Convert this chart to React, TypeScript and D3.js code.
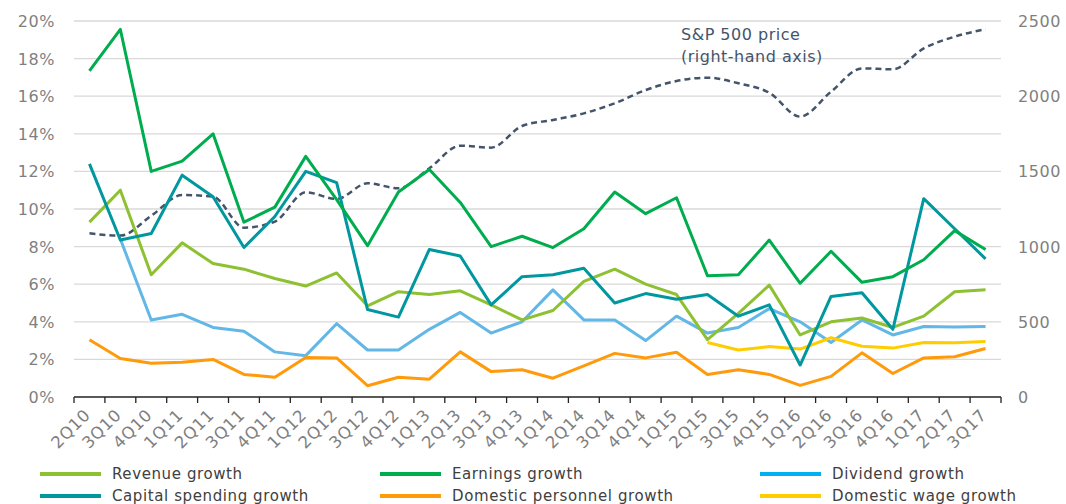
import React from 'react';
import * as d3 from 'd3';

const quarters = ['2Q10','3Q10','4Q10','1Q11','2Q11','3Q11','4Q11','1Q12','2Q12','3Q12','4Q12','1Q13','2Q13','3Q13','4Q13','1Q14','2Q14','3Q14','4Q14','1Q15','2Q15','3Q15','4Q15','1Q16','2Q16','3Q16','4Q16','1Q17','2Q17','3Q17'];

const revenue = [9.3,11.0,6.5,8.2,7.1,6.8,6.3,5.9,6.6,4.85,5.6,5.45,5.65,4.9,4.1,4.6,6.15,6.8,6.0,5.45,3.05,4.45,5.95,3.3,4.0,4.2,3.7,4.3,5.6,5.7];
const earnings = [17.35,19.55,12.0,12.55,14.0,9.3,10.1,12.8,10.5,8.05,10.9,12.1,10.35,8.0,8.55,7.95,8.95,10.9,9.75,10.6,6.45,6.5,8.35,6.05,7.75,6.1,6.4,7.3,8.85,7.85];
const dividend = [null,8.4,4.1,4.4,3.7,3.5,2.4,2.2,3.9,2.5,2.5,3.6,4.5,3.4,4.0,5.7,4.1,4.1,3.0,4.3,3.4,3.7,4.7,4.0,2.9,4.1,3.3,3.75,3.72,3.75];
const capex = [12.4,8.35,8.7,11.8,10.65,7.95,9.6,12.0,11.4,4.65,4.25,7.85,7.5,4.9,6.4,6.5,6.85,5.0,5.5,5.2,5.45,4.3,4.9,1.7,5.35,5.55,3.6,10.55,8.95,7.35];
const personnel = [3.05,2.05,1.8,1.85,2.0,1.2,1.05,2.1,2.08,0.6,1.05,0.95,2.4,1.35,1.45,1.0,1.65,2.32,2.08,2.38,1.2,1.45,1.2,0.62,1.1,2.35,1.25,2.08,2.14,2.58];
const wage = [null,null,null,null,null,null,null,null,null,null,null,null,null,null,null,null,null,null,null,null,2.9,2.5,2.68,2.55,3.15,2.7,2.6,2.9,2.88,2.95];
const sp500 = [1088,1073,1205,1343,1332,1126,1166,1361,1317,1421,1388,1521,1671,1658,1802,1842,1886,1953,2041,2101,2123,2086,2023,1864,2030,2185,2179,2318,2396,2445];

const leftTicks = [0,2,4,6,8,10,12,14,16,18,20];
const rightTicks = [0,500,1000,1500,2000,2500];

const seriesNames = ['Revenue growth','Earnings growth','Dividend growth','Capital spending growth','Domestic personnel growth','Domestic wage growth'];
const seriesData = [revenue, earnings, dividend, capex, personnel, wage];
const lineColors = ['#8DC132','#00AD4E','#62B7E6','#00979F','#FF9A0A','#FFCC00'];
const legendColors = ['#8DC132','#00AD4E','#00B0F0','#00979F','#FF9A0A','#FFCC00'];
// drawing order (back to front)
const drawOrder = [2, 5, 4, 0, 3, 1];

const W = 1066, H = 504;
const left = 74, right = 1001, top = 21, bottom = 397;
const font = 'DejaVu Sans, Verdana, sans-serif';

export default function App() {
  const x = d3.scaleBand<string>().domain(quarters).range([left, right]);
  const y = d3.scaleLinear().domain([0, 20]).range([bottom, top]);
  const y2 = d3.scaleLinear().domain([0, 2500]).range([bottom, top]);
  const cx = (q: string) => (x(q) as number) + x.bandwidth() / 2;

  const line = d3.line<number | null>()
    .defined(d => d !== null)
    .x((_, i) => cx(quarters[i]))
    .y(d => y(d as number));

  const spLine = d3.line<number>()
    .x((_, i) => cx(quarters[i]))
    .y(d => y2(d))
    .curve(d3.curveMonotoneX);

  const tickXs = quarters.map(q => x(q) as number).concat([right]);

  const legendCols = [40, 380, 760];
  const legendRows = [474, 496];

  return (
    <svg width={W} height={H} style={{ position: 'absolute', left: 0, top: 0 }} fontFamily={font}>
      <rect width={W} height={H} fill="#fff" />
      {leftTicks.slice(1).map(t => (
        <line key={t} x1={left} x2={right} y1={y(t)} y2={y(t)} stroke="#D9D9D9" strokeWidth={1.3} />
      ))}
      {leftTicks.map(t => (
        <text key={t} x={55} y={y(t) + 6} textAnchor="end" fontSize={16} fill="#7F7F7F" letterSpacing={0.6}>{t}%</text>
      ))}
      {rightTicks.map(t => (
        <text key={t} x={1018} y={y2(t) + 6} fontSize={16} fill="#7F7F7F" letterSpacing={0.6}>{t}</text>
      ))}
      <line x1={left} x2={right} y1={bottom} y2={bottom} stroke="#222" strokeWidth={1.3} />
      {tickXs.map((t, i) => (
        <line key={i} x1={t} x2={t} y1={bottom} y2={bottom + 6} stroke="#222" strokeWidth={1.3} />
      ))}
      {quarters.map(q => (
        <text key={q} transform={`translate(${cx(q) + 2},${bottom + 19}) rotate(-45)`} textAnchor="end"
          fontSize={16.5} fill="#7F7F7F" letterSpacing={0.7}>{q}</text>
      ))}
      <path d={spLine(sp500) || ''} fill="none" stroke="#44546A" strokeWidth={2.5} strokeDasharray="6,4" />
      {drawOrder.map(k => (
        <path key={k} d={line(seriesData[k]) || ''} fill="none" stroke={lineColors[k]} strokeWidth={3} strokeLinejoin="round" />
      ))}
      <text x={681} y={40} fontSize={16} fill="#44546A" letterSpacing={0.5}>S&amp;P 500 price</text>
      <text x={681} y={62} fontSize={16} fill="#44546A" letterSpacing={0.5}>(right-hand axis)</text>
      {seriesNames.map((name, i) => {
        const col = i % 3, row = Math.floor(i / 3);
        const lx = legendCols[col], ly = legendRows[row];
        return (
          <g key={name}>
            <line x1={lx} x2={lx + 61} y1={ly} y2={ly} stroke={legendColors[i]} strokeWidth={4} />
            <text x={lx + 72} y={ly + 5} fontSize={15} fill="#404040" letterSpacing={0.6}>{name}</text>
          </g>
        );
      })}
    </svg>
  );
}
